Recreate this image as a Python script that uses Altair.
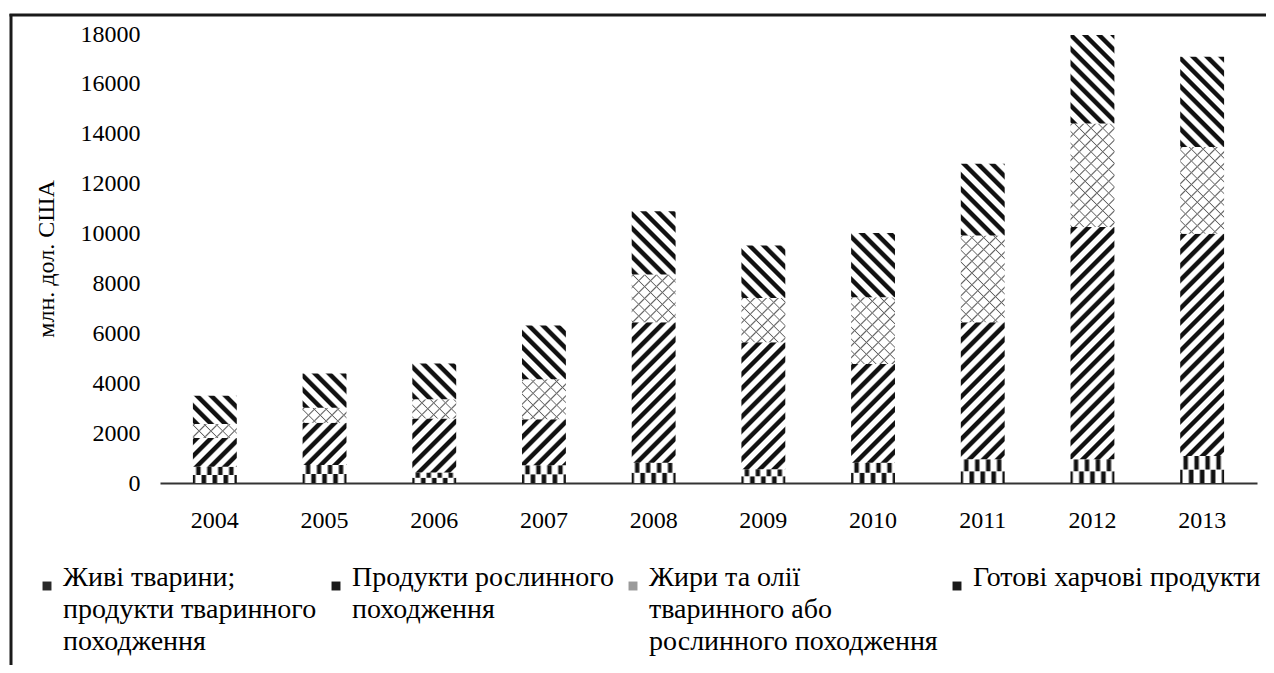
import math
import altair as alt
import pandas as pd

# ---------------- data ----------------
years = ["2004", "2005", "2006", "2007", "2008", "2009", "2010", "2011", "2012", "2013"]
series = [
    "Живі тварини;\nпродукти тваринного\nпоходження",
    "Продукти рослинного\nпоходження",
    "Жири та олії\nтваринного або\nрослинного походження",
    "Готові харчові продукти",
]
animal = [650, 720, 420, 710, 815, 550, 815, 950, 950, 1085]
plant = [1150, 1700, 2170, 1850, 5625, 5090, 3955, 5490, 9310, 8905]
fats = [570, 600, 770, 1600, 1920, 1780, 2675, 3485, 4150, 3480]
ready = [1125, 1370, 1435, 2150, 2530, 2100, 2575, 2875, 3550, 3620]
y_ticks = list(range(0, 18001, 2000))

rows = []
for k, (name, vals) in enumerate(zip(series, [animal, plant, fats, ready])):
    for yr, v in zip(years, vals):
        rows.append({"year": yr, "series": name, "k": k, "value": v})
df = pd.DataFrame(rows)

# ---------------- geometry / style ----------------
W, H, YMAX = 1097, 449, 18000
BW = 0.4 * W / 10          # bar width in px (paddingInner .6, paddingOuter .3)
PX = H / YMAX              # px per unit
FONT = "Liberation Serif"
FS = 24
LFS = 28
WHITE = "#ffffff"
INK = "#111111"
CLEAR = "rgba(255,255,255,0)"


def stripe_stops(n, frac, ink, paper, soft=0.12):
    out = []
    for i in range(n):
        s = i / n
        e = soft / n
        out += [(s, paper), (s + e, ink), (s + frac / n, ink), (s + frac / n + e, paper)]
    out.append((1.0, paper))
    return out


def js_stops(stops):
    return "[" + ",".join("{offset:%.5f,color:'%s'}" % (o, c) for o, c in stops) + "]"


def diag_expr(stops, direction, L=300.0):
    h = f"(max(datum.y1 - datum.y0, 1) * {PX:.6f})"
    c = f"({math.sqrt(2) * L:.4f} / ({BW * BW:.4f} + {h} * {h}))"
    if direction == "/":
        return (f"{{gradient:'linear',x1:0,y1:0,x2:{c}*{BW:.4f},y2:{c}*{h},"
                f"stops:{js_stops(stops)}}}")
    return (f"{{gradient:'linear',x1:0,y1:1,x2:{c}*{BW:.4f},y2:1-{c}*{h},"
            f"stops:{js_stops(stops)}}}")


thick = stripe_stops(30, 0.45, INK, WHITE)
thin_a = stripe_stops(36, 0.14, "#666666", WHITE)
thin_b = stripe_stops(36, 0.14, "#666666", CLEAR)


def cells(n, pattern):
    out = []
    for i in range(n):
        s = i / n
        for o, c in pattern:
            out.append(alt.GradientStop(offset=min(s + o / n, 1.0), color=c))
    return out


diamond_top = alt.Gradient(
    gradient="linear", x1=0, y1=0, x2=1, y2=0,
    stops=cells(4, [(0.0, WHITE), (0.2, WHITE), (0.4, INK), (0.6, INK), (0.8, WHITE), (1.0, WHITE)]),
)
circle_bottom = alt.Gradient(
    gradient="linear", x1=0, y1=0, x2=1, y2=0,
    stops=cells(4, [(0.0, INK), (0.12, INK), (0.3, WHITE), (0.7, WHITE), (0.88, INK), (1.0, INK)]),
)

x_enc = alt.X(
    "year:N", sort=years,
    scale=alt.Scale(paddingInner=0.6, paddingOuter=0.3),
    axis=alt.Axis(title=None, labelAngle=0, ticks=False, domain=True,
                  domainColor="#333333", domainWidth=2, labelPadding=25),
)
y_axis = alt.Axis(values=y_ticks, format="d", title="млн. дол. США", grid=False, ticks=False,
                  domain=False, labelPadding=20, titlePadding=22)
y_scale = alt.Scale(domain=[0, YMAX], nice=False)

base = alt.Chart(df).transform_stack(
    stack="value", groupby=["year"], as_=["y0", "y1"],
    sort=[alt.SortField("k", order="ascending")],
).transform_calculate(ym="(datum.y0 + datum.y1) / 2")


def seg(k, expr):
    return (base.transform_filter(f"datum.k == {k}")
            .transform_calculate(g=expr)
            .mark_bar()
            .encode(x=x_enc, y=alt.Y("y1:Q", scale=y_scale, axis=y_axis),
                    y2="y0:Q", fill=alt.Fill("g:N", scale=None, legend=None)))


animal_top = base.transform_filter("datum.k == 0").mark_bar(fill=diamond_top).encode(
    x=x_enc, y=alt.Y("y1:Q", scale=y_scale, axis=y_axis), y2="ym:Q")
animal_bot = base.transform_filter("datum.k == 0").mark_bar(fill=circle_bottom).encode(
    x=x_enc, y=alt.Y("ym:Q", scale=y_scale, axis=y_axis), y2="y0:Q")

plant_l = seg(1, diag_expr(thick, "/"))
fats_a = seg(2, diag_expr(thin_a, "/"))
fats_b = seg(2, diag_expr(thin_b, "\\"))
ready_l = seg(3, diag_expr(thick, "\\"))

legend_layer = base.mark_bar(opacity=0).encode(
    x=x_enc, y=alt.Y("y1:Q", scale=y_scale, axis=y_axis), y2="y0:Q",
    color=alt.Color(
        "series:N",
        scale=alt.Scale(domain=series, range=["#2a2a2a", "#1a1a1a", "#9a9a9a", "#1a1a1a"]),
        legend=alt.Legend(
            title=None, orient="none", legendX=-127, legendY=538,
            direction="horizontal", columns=4, columnPadding=5,
            symbolType="square", symbolSize=80, symbolStrokeWidth=0, symbolOpacity=1,
            labelFont=FONT, labelFontSize=LFS, labelColor="#000000", labelLimit=600,
            labelOffset=2, labelBaseline="alphabetic",
            labelExpr="slice(split(datum.label + '\\n\\n', '\\n'), 0, 3)",
        ),
    ),
)

frame_data = alt.Data(values=[{"f": 1}])
frame_left = alt.Chart(frame_data).mark_rule(color="#1a1a1a", strokeWidth=3).encode(
    x=alt.value(-149), y=alt.value(-20), y2=alt.value(640))
frame_top = alt.Chart(frame_data).mark_rule(color="#1a1a1a", strokeWidth=3).encode(
    x=alt.value(-150.5), x2=alt.value(1120), y=alt.value(-19))

chart = alt.layer(
    legend_layer, animal_bot, animal_top, plant_l, fats_a, fats_b, ready_l,
    frame_left, frame_top,
).properties(
    width=W, height=H,
    autosize=alt.AutoSizeParams(type="none"),
    padding={"left": 152, "top": 26, "right": 9, "bottom": 182},
).configure(
    background="#ffffff",
    style={"guide-label": {"lineHeight": 32}},
).configure_view(stroke=None).configure_axis(
    labelFont=FONT, labelFontSize=FS, labelColor="#000000",
    titleFont=FONT, titleFontSize=FS, titleFontWeight="normal", titleColor="#000000",
)

chart.save("out.html", embed_options={"renderer": "svg", "actions": False})
